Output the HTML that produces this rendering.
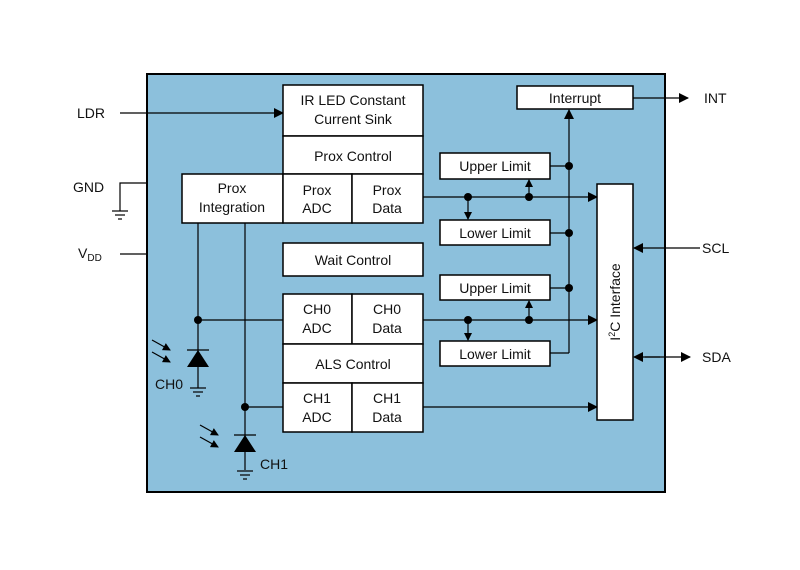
<!DOCTYPE html>
<html><head><style>
body{margin:0;background:#fff}
svg text{font-family:"Liberation Sans",sans-serif;font-size:14px;fill:#111}
</style></head><body>
<svg width="800" height="565" viewBox="0 0 800 565" xmlns="http://www.w3.org/2000/svg">
<defs>
<marker id="a" markerWidth="10" markerHeight="10" refX="9" refY="5" orient="auto" markerUnits="userSpaceOnUse"><path d="M0,0 L10,5 L0,10 z" fill="#000"/></marker>
<marker id="as" markerWidth="8" markerHeight="8" refX="7" refY="4" orient="auto" markerUnits="userSpaceOnUse"><path d="M0,0 L8,4 L0,8 z" fill="#000"/></marker>
</defs>
<rect x="147" y="74" width="518" height="418" fill="#8cc0dc" stroke="#000" stroke-width="2"/>
<g stroke="#000" stroke-width="1.2" fill="none">
<line x1="120" y1="113" x2="283" y2="113" marker-end="url(#a)"/>
<polyline points="147,183 120,183 120,211"/>
<line x1="112" y1="211" x2="128" y2="211"/><line x1="115" y1="215" x2="125" y2="215"/><line x1="118" y1="219" x2="122" y2="219"/>
<line x1="120" y1="254" x2="147" y2="254"/>
<line x1="633" y1="98" x2="688" y2="98" marker-end="url(#a)"/>
<line x1="700" y1="248" x2="634" y2="248" marker-end="url(#a)"/>
<line x1="645" y1="357" x2="690" y2="357" marker-end="url(#a)"/>
<line x1="660" y1="357" x2="634" y2="357" marker-end="url(#a)"/>
<line x1="569" y1="353" x2="569" y2="110" marker-end="url(#a)"/>
<line x1="550" y1="166" x2="569" y2="166"/><line x1="550" y1="233" x2="569" y2="233"/><line x1="550" y1="288" x2="569" y2="288"/>
<polyline points="550,353 569,353"/>
<line x1="423" y1="197" x2="597" y2="197" marker-end="url(#a)"/>
<line x1="423" y1="320" x2="597" y2="320" marker-end="url(#a)"/>
<line x1="423" y1="407" x2="597" y2="407" marker-end="url(#a)"/>
<line x1="468" y1="197" x2="468" y2="219" marker-end="url(#as)"/>
<line x1="529" y1="197" x2="529" y2="180" marker-end="url(#as)"/>
<line x1="468" y1="320" x2="468" y2="340" marker-end="url(#as)"/>
<line x1="529" y1="320" x2="529" y2="301" marker-end="url(#as)"/>
<line x1="198" y1="223" x2="198" y2="388"/>
<line x1="198" y1="320" x2="283" y2="320"/>
<line x1="245" y1="223" x2="245" y2="470"/>
<line x1="245" y1="407" x2="283" y2="407"/>
<line x1="190" y1="388" x2="206" y2="388"/><line x1="193" y1="392" x2="203" y2="392"/><line x1="196" y1="396" x2="200" y2="396"/>
<line x1="237" y1="471" x2="253" y2="471"/><line x1="240" y1="475" x2="250" y2="475"/><line x1="243" y1="479" x2="247" y2="479"/>
<line x1="187" y1="350" x2="209" y2="350"/><line x1="234" y1="435" x2="256" y2="435"/>
<line x1="152" y1="340" x2="170" y2="350" marker-end="url(#as)"/><line x1="152" y1="352" x2="170" y2="362" marker-end="url(#as)"/>
<line x1="200" y1="425" x2="218" y2="435" marker-end="url(#as)"/><line x1="200" y1="437" x2="218" y2="447" marker-end="url(#as)"/>
</g>
<g fill="#000">
<path d="M187,367 L209,367 L198,350 z"/><path d="M234,452 L256,452 L245,435 z"/>
<circle cx="569" cy="166" r="4"/><circle cx="569" cy="233" r="4"/><circle cx="569" cy="288" r="4"/>
<circle cx="468" cy="197" r="4"/><circle cx="529" cy="197" r="4"/>
<circle cx="468" cy="320" r="4"/><circle cx="529" cy="320" r="4"/>
<circle cx="198" cy="320" r="4"/><circle cx="245" cy="407" r="4"/>
</g>
<g fill="#fff" stroke="#000" stroke-width="1.5">
<rect x="283" y="85" width="140" height="51"/><rect x="283" y="136" width="140" height="38"/>
<rect x="182" y="174" width="101" height="49"/><rect x="283" y="174" width="69" height="49"/><rect x="352" y="174" width="71" height="49"/>
<rect x="283" y="243" width="140" height="33"/>
<rect x="283" y="294" width="69" height="50"/><rect x="352" y="294" width="71" height="50"/>
<rect x="283" y="344" width="140" height="39"/>
<rect x="283" y="383" width="69" height="49"/><rect x="352" y="383" width="71" height="49"/>
<rect x="517" y="86" width="116" height="23"/>
<rect x="440" y="153" width="110" height="26"/><rect x="440" y="220" width="110" height="25"/>
<rect x="440" y="275" width="110" height="25"/><rect x="440" y="341" width="110" height="25"/>
<rect x="597" y="184" width="36" height="236"/>
</g>
<g text-anchor="middle">
<text x="353" y="105">IR LED Constant</text><text x="353" y="124">Current Sink</text>
<text x="353" y="161">Prox Control</text>
<text x="232" y="193">Prox</text><text x="232" y="212">Integration</text>
<text x="317" y="195">Prox</text><text x="317" y="213">ADC</text>
<text x="387" y="195">Prox</text><text x="387" y="213">Data</text>
<text x="353" y="265">Wait Control</text>
<text x="317" y="314">CH0</text><text x="317" y="333">ADC</text>
<text x="387" y="314">CH0</text><text x="387" y="333">Data</text>
<text x="353" y="369">ALS Control</text>
<text x="317" y="403">CH1</text><text x="317" y="422">ADC</text>
<text x="387" y="403">CH1</text><text x="387" y="422">Data</text>
<text x="575" y="103">Interrupt</text>
<text x="495" y="171">Upper Limit</text><text x="495" y="238">Lower Limit</text>
<text x="495" y="293">Upper Limit</text><text x="495" y="359">Lower Limit</text>
<text transform="translate(620,302) rotate(-90)">I<tspan font-size="9" dy="-5">2</tspan><tspan dy="5">C Interface</tspan></text>
</g>
<text x="77" y="118">LDR</text><text x="73" y="192">GND</text>
<text x="78" y="258">V<tspan font-size="10" dy="3">DD</tspan></text>
<text x="704" y="103">INT</text><text x="702" y="253">SCL</text><text x="702" y="362">SDA</text>
<text x="155" y="389">CH0</text><text x="260" y="469">CH1</text>
</svg>
</body></html>
